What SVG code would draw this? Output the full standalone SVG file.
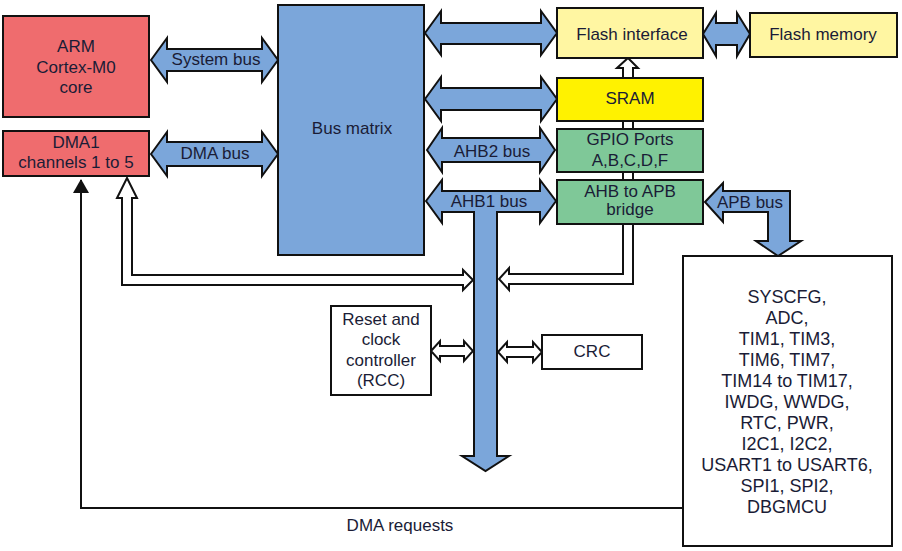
<svg xmlns="http://www.w3.org/2000/svg" width="902" height="551" viewBox="0 0 902 551">
  <defs>
    <style>
      text { font-family: "Liberation Sans", Arial, sans-serif; font-size: 17px; fill: #1a1c36; text-anchor: middle; }
      .list text { font-size: 18px; }
      .box { stroke: #111; stroke-width: 2; }
      .red { fill: #ef6c6e; }
      .blue { fill: #7ba6da; }
      .pale { fill: #fff6a2; }
      .yel { fill: #fff200; }
      .grn { fill: #7fc898; }
      .wht { fill: #fff; }
      .bus { fill: #7ba6da; stroke: #111; stroke-width: 2; stroke-linejoin: miter; }
      .hollow { fill: #fff; stroke: #111; stroke-width: 2; stroke-linejoin: miter; }
      .wire { fill: none; stroke: #111; stroke-width: 2; }
    </style>
    <marker id="tip" viewBox="0 0 14 16" refX="13" refY="8" markerWidth="14" markerHeight="16" markerUnits="userSpaceOnUse" orient="auto">
      <path d="M0,0 L14,8 L0,16 Z" fill="#111"/>
    </marker>
  </defs>

  <!-- connectors: hollow control paths drawn first so boxes sit on top -->
  <g id="connectors">
    <!-- AHB side path up to the flash interface -->
    <polygon class="hollow" points="628,58 638,68 633,68 633,284 509,284 509,290 499,279 509,268 509,274 623,274 623,68 617,68"/>
    <!-- DMA1 path into the AHB1 bus -->
    <polygon class="hollow" points="127,178 137,198 132,198 132,275 463,275 463,270 473,280 463,290 463,285 122,285 122,198 117,198"/>
    <!-- RCC and CRC links -->
    <polygon class="hollow" points="431,351 440,341 440,346 464,346 464,341 473,351 464,361 464,356 440,356 440,361"/>
    <polygon class="hollow" points="498,352 507,342 507,347 533,347 533,342 542,352 533,362 533,357 507,357 507,362"/>

    <!-- blue bus arrows -->
    <polygon class="bus" points="151,60 167,38 167,49 262,49 262,38 278,60 262,82 262,71 167,71 167,82"/>
    <polygon class="bus" points="151,154 167,132 167,142 262,142 262,132 278,154 262,176 262,166 167,166 167,176"/>
    <polygon class="bus" points="425,33 441,11 441,23 541,23 541,11 557,33 541,55 541,44 441,44 441,55"/>
    <polygon class="bus" points="425,99 441,77 441,88 541,88 541,77 557,99 541,121 541,110 441,110 441,121"/>
    <polygon class="bus" points="427,150 442,128 442,138 540,138 540,128 555,150 540,172 540,162 442,162 442,172"/>
    <polygon class="bus" points="426,201 442,180 442,191 540,191 540,180 556,201 540,223 540,212 497,212 497,456 509,456 485.5,471 462,456 474,456 474,212 442,212 442,223"/>
    <polygon class="bus" points="703,34 716,13 716,23 737,23 737,13 750,34 737,56 737,45 716,45 716,56"/>
    <polygon class="bus" points="705,202 723,183 723,191 790,191 790,241 801,241 778,256 756,241 768,241 768,212 723,212 723,222"/>

    <!-- DMA request line -->
    <path class="wire" d="M683,508 H81 V180" marker-end="url(#tip)"/>
  </g>

  <g id="arm-core">
    <rect class="box red" x="3" y="16" width="146" height="101"/>
    <text x="76" y="52">ARM</text>
    <text x="76" y="73">Cortex-M0</text>
    <text x="76" y="93">core</text>
  </g>

  <g id="dma1">
    <rect class="box red" x="3" y="131" width="146" height="45"/>
    <text x="76" y="148">DMA1</text>
    <text x="76" y="168">channels 1 to 5</text>
  </g>

  <g id="bus-matrix">
    <rect class="box blue" x="278" y="5" width="146" height="250"/>
    <text x="352" y="134">Bus matrix</text>
  </g>

  <g id="flash-interface">
    <rect class="box pale" x="557" y="8" width="146" height="50"/>
    <text x="632" y="40">Flash interface</text>
  </g>

  <g id="flash-memory">
    <rect class="box pale" x="750" y="13" width="147" height="44"/>
    <text x="823" y="40">Flash memory</text>
  </g>

  <g id="sram">
    <rect class="box yel" x="557" y="78" width="146" height="43"/>
    <text x="630" y="104">SRAM</text>
  </g>

  <g id="gpio">
    <rect class="box grn" x="557" y="129" width="146" height="43"/>
    <text x="630" y="145">GPIO Ports</text>
    <text x="630" y="166">A,B,C,D,F</text>
  </g>

  <g id="ahb-apb-bridge">
    <rect class="box grn" x="557" y="180" width="146" height="44"/>
    <text x="630" y="197">AHB to APB</text>
    <text x="630" y="215">bridge</text>
  </g>

  <g id="rcc">
    <rect class="box wht" x="331" y="306" width="100" height="89"/>
    <text x="381" y="325">Reset and</text>
    <text x="381" y="345">clock</text>
    <text x="381" y="366">controller</text>
    <text x="381" y="386">(RCC)</text>
  </g>

  <g id="crc">
    <rect class="box wht" x="542" y="335" width="100" height="34"/>
    <text x="592" y="357">CRC</text>
  </g>

  <g id="apb-peripherals" class="list">
    <rect class="box wht" x="683" y="256" width="209" height="290"/>
    <text x="787" y="303">SYSCFG,</text>
    <text x="787" y="324">ADC,</text>
    <text x="787" y="345">TIM1, TIM3,</text>
    <text x="787" y="366">TIM6, TIM7,</text>
    <text x="787" y="387">TIM14 to TIM17,</text>
    <text x="787" y="408">IWDG, WWDG,</text>
    <text x="787" y="429">RTC, PWR,</text>
    <text x="787" y="450">I2C1, I2C2,</text>
    <text x="787" y="471">USART1 to USART6,</text>
    <text x="787" y="492">SPI1, SPI2,</text>
    <text x="787" y="513">DBGMCU</text>
  </g>

  <!-- bus labels -->
  <g id="bus-labels">
    <text x="216" y="65">System bus</text>
    <text x="215" y="159">DMA bus</text>
    <text x="492" y="157">AHB2 bus</text>
    <text x="489" y="207">AHB1 bus</text>
    <text x="750" y="208">APB bus</text>
    <text x="400" y="531">DMA requests</text>
  </g>
</svg>
